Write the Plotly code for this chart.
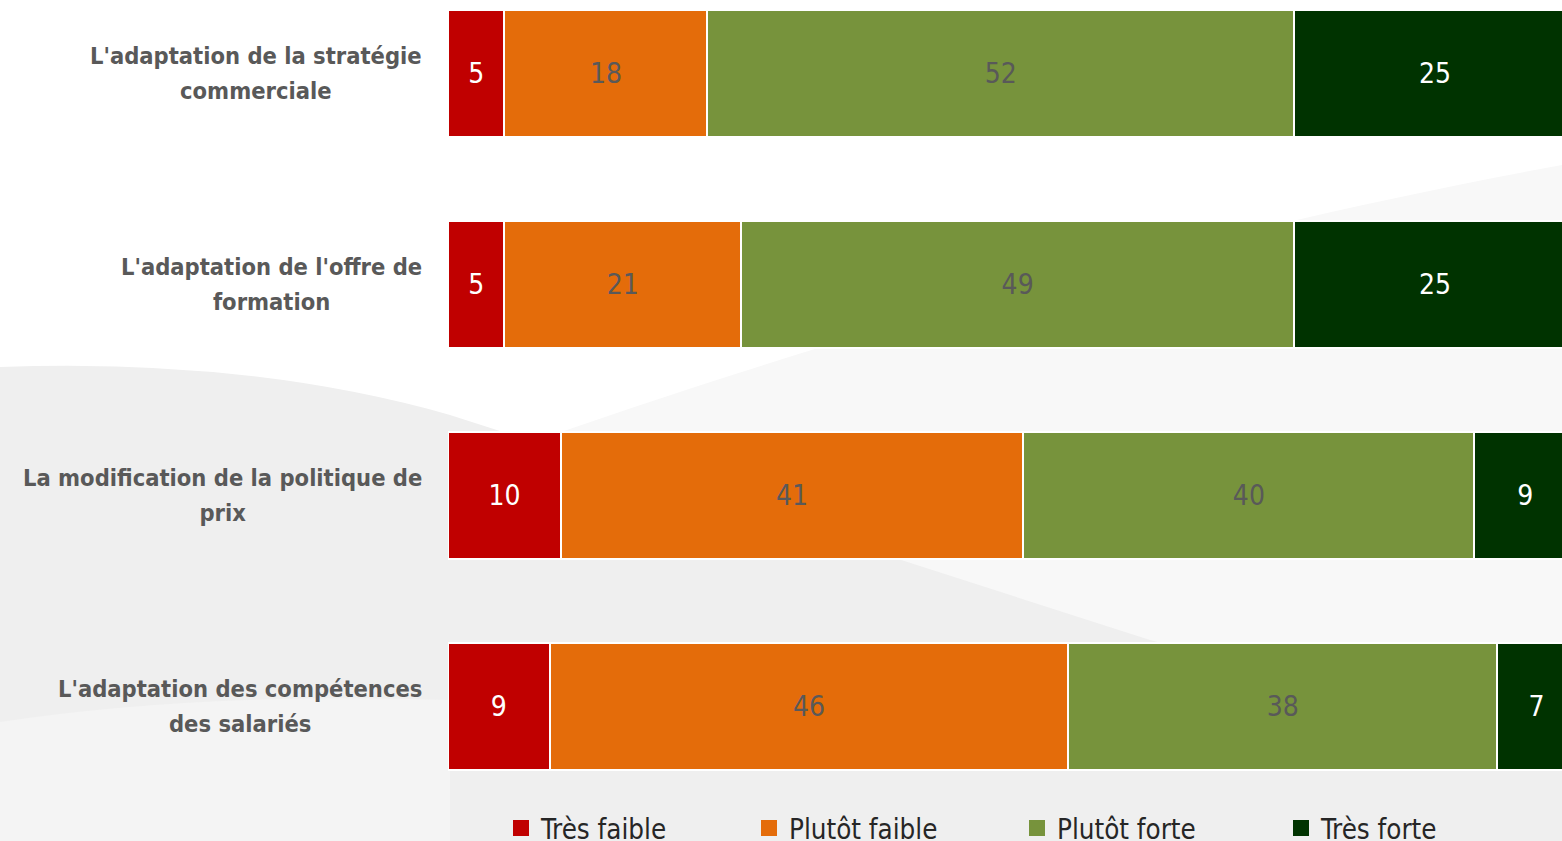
import plotly.graph_objects as go

# ---------------- data ----------------
categories = [
    "L'adaptation de la stratégie<br>commerciale",
    "L'adaptation de l'offre de<br>formation",
    "La modification de la politique de<br>prix",
    "L'adaptation des compétences<br>des salariés",
]
series_names = ["Très faible", "Plutôt faible", "Plutôt forte", "Très forte"]
tres_faible = [5, 5, 10, 9]
plutot_faible = [18, 21, 41, 46]
plutot_forte = [52, 49, 40, 38]
tres_forte = [25, 25, 9, 7]
series_values = [tres_faible, plutot_faible, plutot_forte, tres_forte]

colors = ["#C00000", "#E46C0A", "#77933C", "#003300"]
label_colors = ["#FFFFFF", "#595959", "#595959", "#FFFFFF"]

W, H = 1562, 841
L, R, T, B = 448, 0, 0, 29
PW, PH = W - L - R, H - T - B
FONT = "DejaVu Sans Condensed, Liberation Sans Narrow, sans-serif"

def px(X):
    """window x -> paper x"""
    return (X - L) / PW

def py(Y):
    """window y -> paper y"""
    return (T + PH - Y) / PH

fig = go.Figure()
idx = list(range(len(categories)))
legend_ids = ["legend", "legend2", "legend3", "legend4"]
legend_sym_x = [520, 768, 1036, 1300]

for name, vals, col, lc, lid in zip(series_names, series_values, colors, label_colors, legend_ids):
    fig.add_trace(go.Bar(
        y=idx, x=vals, name=name, orientation="h",
        marker=dict(color=col, line=dict(color="white", width=2)),
        width=0.6,
        text=[str(v) for v in vals],
        textposition="inside", insidetextanchor="middle",
        textangle=0,
        textfont=dict(family=FONT, size=28, color=lc),
        showlegend=False,
        hoverinfo="x+name",
    ))
    fig.add_trace(go.Scatter(
        x=[None], y=[None], mode="markers", name=name,
        marker=dict(symbol="square", size=16, color=col),
        showlegend=True, legend=lid,
    ))

# category labels, centered multi-line, right edge at the axis gap
# (outer font size sets the line spacing, inner span sets the glyph size)
for i, cat in enumerate(categories):
    text = "<br>".join(f"<span style='font-size:23.5px'>{ln}</span>" for ln in cat.split("<br>"))
    fig.add_annotation(
        x=px(424), xref="paper", xanchor="right",
        y=i, yref="y", yanchor="middle",
        text=text, showarrow=False, align="center",
        font=dict(family=FONT, size=27, color="#595959", weight="bold"),
    )

shapes = [
    dict(type="path", xref="paper", yref="paper", layer="below", line=dict(width=0),
         fillcolor="#F8F8F8",
         path=f"M {px(440)},{py(475)} C {px(700)},{py(380)} {px(1100)},{py(250)} {px(1562)},{py(165)} "
              f"L {px(1562)},{py(841)} L {px(440)},{py(841)} Z"),
    dict(type="path", xref="paper", yref="paper", layer="below", line=dict(width=0),
         fillcolor="#EFEFEF",
         path=f"M {px(0)},{py(367)} Q {px(250)},{py(358)} {px(450)},{py(415)} "
              f"L {px(1150)},{py(640)} Q {px(1380)},{py(700)} {px(1562)},{py(745)} "
              f"L {px(1562)},{py(841)} L {px(0)},{py(841)} Z"),
    dict(type="path", xref="paper", yref="paper", layer="below", line=dict(width=0),
         fillcolor="#F4F4F4",
         path=f"M {px(0)},{py(722)} Q {px(200)},{py(692)} {px(450)},{py(700)} "
              f"L {px(450)},{py(841)} L {px(0)},{py(841)} Z"),
]

legends = {}
for lid, sx in zip(legend_ids, legend_sym_x):
    legends[lid] = dict(
        orientation="h", x=px(sx - 19), xanchor="left", y=py(828), yanchor="middle",
        font=dict(family=FONT, size=27.5, color="#262626"),
        bgcolor="rgba(0,0,0,0)",
    )

fig.update_layout(
    width=W, height=H,
    margin=dict(l=L, r=R, t=T, b=B, autoexpand=False),
    paper_bgcolor="white",
    plot_bgcolor="rgba(0,0,0,0)",
    barmode="stack",
    shapes=shapes,
    xaxis=dict(range=[0, 98.76], visible=False, fixedrange=True),
    yaxis=dict(range=[3.5, -73.5 / 211], showticklabels=False, showgrid=False,
               zeroline=False, showline=False, ticks="", fixedrange=True),
    **legends,
)

fig.write_html(
    "out.html",
    config={"displayModeBar": False},
    post_script="document.body.style.margin='0';"
                "document.documentElement.style.overflow='hidden';",
)
